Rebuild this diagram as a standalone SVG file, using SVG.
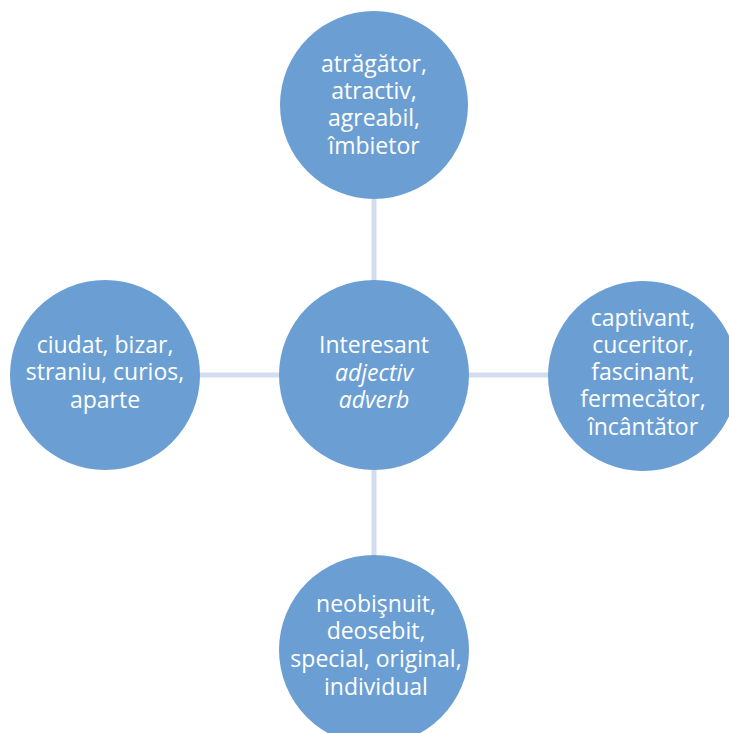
<svg xmlns="http://www.w3.org/2000/svg" width="729" height="733" viewBox="0 0 729 733">
<style>
.node{fill:#6b9fd4;}
.conn{stroke:#d3ddef;stroke-width:5;fill:none;}
text{font-family:"Open Sans","Noto Sans","DejaVu Sans",sans-serif;font-size:23px;fill:#ffffff;text-anchor:middle;}
.it{font-style:italic;}
</style>
<rect width="729" height="733" fill="#ffffff"/>
<g id="connectors">
<line class="conn" x1="374" y1="195" x2="374" y2="285"/>
<line class="conn" x1="374" y1="465" x2="374" y2="560"/>
<line class="conn" x1="195" y1="375" x2="285" y2="375"/>
<line class="conn" x1="464" y1="375" x2="553" y2="375"/>
</g>
<g id="center">
<circle class="node" cx="374" cy="375" r="95"/>
<text x="374" y="353">Interesant</text>
<text x="374" y="381" class="it">adjectiv</text>
<text x="374" y="408" class="it">adverb</text>
</g>
<g id="top">
<circle class="node" cx="374" cy="105" r="94"/>
<text x="374" y="72">atrăgător,</text>
<text x="374" y="99">atractiv,</text>
<text x="374" y="126">agreabil,</text>
<text x="374" y="154">îmbietor</text>
</g>
<g id="left">
<circle class="node" cx="105" cy="375" r="95"/>
<text x="105" y="353">ciudat, bizar,</text>
<text x="105" y="380">straniu, curios,</text>
<text x="105" y="408">aparte</text>
</g>
<g id="right">
<circle class="node" cx="643" cy="376" r="95"/>
<text x="643" y="326">captivant,</text>
<text x="643" y="353">cuceritor,</text>
<text x="643" y="380">fascinant,</text>
<text x="643" y="407">fermecător,</text>
<text x="643" y="435">încântător</text>
</g>
<g id="bottom">
<circle class="node" cx="374" cy="650" r="95"/>
<text x="376" y="612">neobişnuit,</text>
<text x="376" y="639">deosebit,</text>
<text x="376" y="667">special, original,</text>
<text x="376" y="695">individual</text>
</g>
</svg>
